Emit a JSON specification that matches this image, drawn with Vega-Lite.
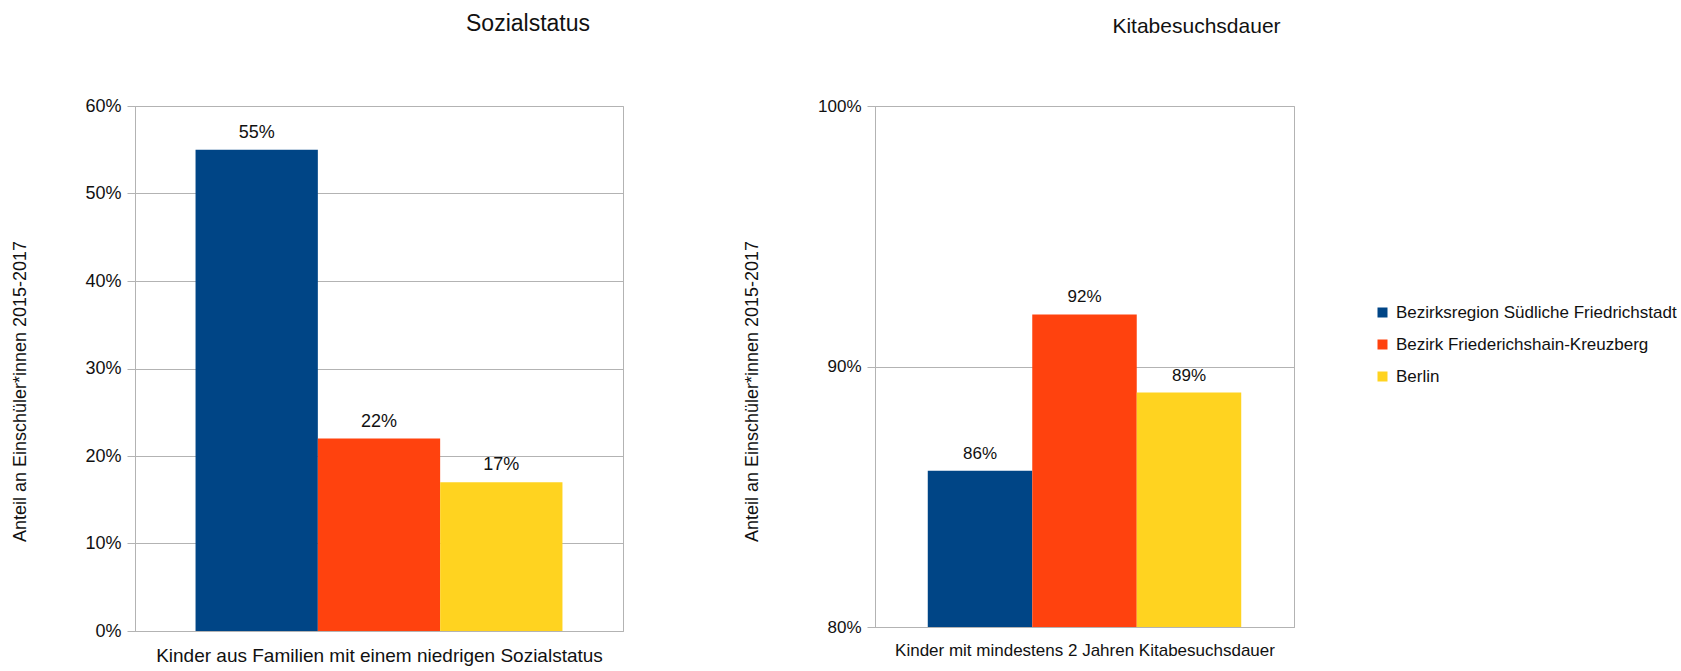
{
  "$schema": "https://vega.github.io/schema/vega-lite/v6.json",
  "padding": {"left": 10, "top": 12, "right": 0, "bottom": 0},
  "background": "white",
  "config": {
    "font": "Liberation Sans",
    "view": {"stroke": "#b3b3b3", "strokeWidth": 1},
    "axis": {
      "labelFontSize": 18,
      "labelColor": "#111111",
      "titleFontSize": 18,
      "titleFontWeight": "normal",
      "titleColor": "#111111",
      "domainColor": "#b3b3b3",
      "tickColor": "#b3b3b3",
      "gridColor": "#b3b3b3",
      "tickSize": 8,
      "labelPadding": 6
    },
    "legend": {
      "labelFontSize": 17,
      "labelColor": "#111111",
      "labelLimit": 400
    },
    "title": {"fontSize": 23, "fontWeight": "normal", "color": "#111111"}
  },
  "datasets": {
    "sozial": [
      {"region": "Bezirksregion Südliche Friedrichstadt", "anteil": 0.55},
      {"region": "Bezirk Friederichshain-Kreuzberg", "anteil": 0.22},
      {"region": "Berlin", "anteil": 0.17}
    ],
    "kita": [
      {"region": "Bezirksregion Südliche Friedrichstadt", "anteil": 0.86},
      {"region": "Bezirk Friederichshain-Kreuzberg", "anteil": 0.92},
      {"region": "Berlin", "anteil": 0.89}
    ]
  },
  "spacing": 118,
  "resolve": {"scale": {"color": "shared"}},
  "hconcat": [
    {
      "width": 488,
      "height": 525,
      "title": {"text": "Sozialstatus", "frame": "group", "anchor": "middle", "dx": 149, "baseline": "alphabetic", "offset": 43},
      "data": {"name": "sozial"},
      "encoding": {
        "x": {
          "field": "region", "type": "nominal",
          "sort": ["Bezirksregion Südliche Friedrichstadt", "Bezirk Friederichshain-Kreuzberg", "Berlin"],
          "scale": {"paddingInner": 0, "paddingOuter": 0.495},
          "axis": {"labels": false, "ticks": false, "title": "Kinder aus Familien mit einem niedrigen Sozialstatus", "titleFontSize": 19, "titlePadding": 15}
        },
        "y": {
          "field": "anteil", "type": "quantitative",
          "scale": {"domain": [0, 0.6], "nice": false},
          "axis": {"format": ".0%", "values": [0, 0.1, 0.2, 0.3, 0.4, 0.5, 0.6], "title": "Anteil an Einschüler*innen 2015-2017", "titleX": -115, "titleY": 285, "titleBaseline": "middle", "titleAlign": "center"}
        }
      },
      "layer": [
        {
          "mark": {"type": "bar"},
          "encoding": {
            "color": {
              "field": "region", "type": "nominal",
              "sort": ["Bezirksregion Südliche Friedrichstadt", "Bezirk Friederichshain-Kreuzberg", "Berlin"],
              "scale": {"domain": ["Bezirksregion Südliche Friedrichstadt", "Bezirk Friederichshain-Kreuzberg", "Berlin"], "range": ["#004586", "#ff420e", "#ffd320"]},
              "legend": {"title": null, "orient": "none", "legendX": 1239, "legendY": 198, "symbolType": "square", "symbolSize": 100, "rowPadding": 14, "labelOffset": 5}
            }
          }
        },
        {
          "mark": {"type": "text", "baseline": "alphabetic", "dy": -12, "fontSize": 18, "color": "#111111"},
          "encoding": {"text": {"field": "anteil", "type": "quantitative", "format": ".0%"}}
        }
      ]
    },
    {
      "width": 419,
      "height": 521,
      "title": {"text": "Kitabesuchsdauer", "frame": "group", "anchor": "middle", "dx": 112, "fontSize": 21, "baseline": "alphabetic", "offset": 43},
      "data": {"name": "kita"},
      "encoding": {
        "x": {
          "field": "region", "type": "nominal",
          "sort": ["Bezirksregion Südliche Friedrichstadt", "Bezirk Friederichshain-Kreuzberg", "Berlin"],
          "scale": {"paddingInner": 0, "paddingOuter": 0.505},
          "axis": {"labels": false, "ticks": false, "title": "Kinder mit mindestens 2 Jahren Kitabesuchsdauer", "titleFontSize": 17, "titlePadding": 15}
        },
        "y": {
          "field": "anteil", "type": "quantitative",
          "scale": {"domain": [0.8, 1.0], "nice": false, "zero": false},
          "axis": {"format": ".0%", "values": [0.8, 0.9, 1.0], "labelFontSize": 17, "title": "Anteil an Einschüler*innen 2015-2017", "titleX": -123, "titleY": 285, "titleBaseline": "middle", "titleAlign": "center"}
        }
      },
      "layer": [
        {
          "mark": {"type": "bar"},
          "encoding": {
            "y2": {"datum": 0.8},
            "color": {
              "field": "region", "type": "nominal",
              "sort": ["Bezirksregion Südliche Friedrichstadt", "Bezirk Friederichshain-Kreuzberg", "Berlin"]
            }
          }
        },
        {
          "mark": {"type": "text", "baseline": "alphabetic", "dy": -12, "fontSize": 17, "color": "#111111"},
          "encoding": {"text": {"field": "anteil", "type": "quantitative", "format": ".0%"}}
        }
      ]
    }
  ]
}
